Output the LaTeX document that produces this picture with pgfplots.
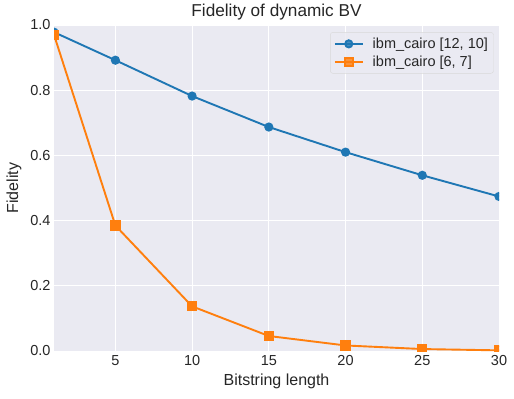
\documentclass[border=0pt]{standalone}
\usepackage{pgfplots}
\pgfplotsset{compat=1.18}
\usepackage{fontspec}
\setmainfont{Liberation Sans}
\definecolor{bgc}{HTML}{EAEAF2}
\definecolor{mblue}{HTML}{1F77B4}
\definecolor{morange}{HTML}{FF7F0E}
\definecolor{txt}{HTML}{262626}
\begin{document}
\begin{tikzpicture}[x=1bp,y=1bp]
\path[use as bounding box] (-54,-47) rectangle (460,351);
\begin{axis}[
  scale only axis, width=445bp, height=326bp,
  xmin=1, xmax=30, ymin=0, ymax=1,
  axis background/.style={fill=bgc},
  axis line style={draw=none},
  grid=major, major grid style={white, line width=0.8bp},
  xtick={5,10,15,20,25,30},
  ytick={0,0.2,0.4,0.6,0.8,1.0},
  yticklabel style={/pgf/number format/.cd, fixed, fixed zerofill, precision=1},
  /pgf/number format/assume math mode=true,
  tick style={draw=none},
  ticklabel style={font=\fontsize{14.5bp}{16bp}\selectfont, text=txt},
  xticklabel style={yshift=-1bp},
  label style={font=\fontsize{16bp}{18bp}\selectfont, text=txt},
  xlabel={Bitstring length}, ylabel={Fidelity},
  xlabel style={yshift=-1bp},
  ylabel style={yshift=2bp},
  title={Fidelity of dynamic BV},
  title style={font=\fontsize{17.2bp}{19bp}\selectfont, text=txt, yshift=-5bp},
  clip marker paths=true,
  legend style={at={(0.988,0.978)}, anchor=north east, fill=bgc, fill opacity=0.8, text opacity=1, draw=gray!30, rounded corners=2.5bp, font=\fontsize{14.5bp}{17bp}\selectfont, text=txt, row sep=2bp, inner sep=3.5bp, /tikz/every odd column/.append style={column sep=7bp}},
  legend cell align=left,
  legend image code/.code={\draw[mark repeat=2, mark phase=2] plot coordinates {(0bp,0bp) (14bp,0bp) (28bp,0bp)};},
]
\addplot[mblue, line width=1.9bp, mark=*, mark size=3.6bp, mark options={solid}] coordinates {
(1,0.978) (5,0.892) (10,0.782) (15,0.687) (20,0.610) (25,0.539) (30,0.474)};
\addlegendentry{ibm\_cairo [12, 10]}
\addplot[morange, line width=1.9bp, mark=square*, mark size=4.2bp, mark options={solid}] coordinates {
(1,0.970) (5,0.385) (10,0.137) (15,0.046) (20,0.017) (25,0.006) (30,0.002)};
\addlegendentry{ibm\_cairo [6, 7]}
\end{axis}
\end{tikzpicture}
\end{document}
